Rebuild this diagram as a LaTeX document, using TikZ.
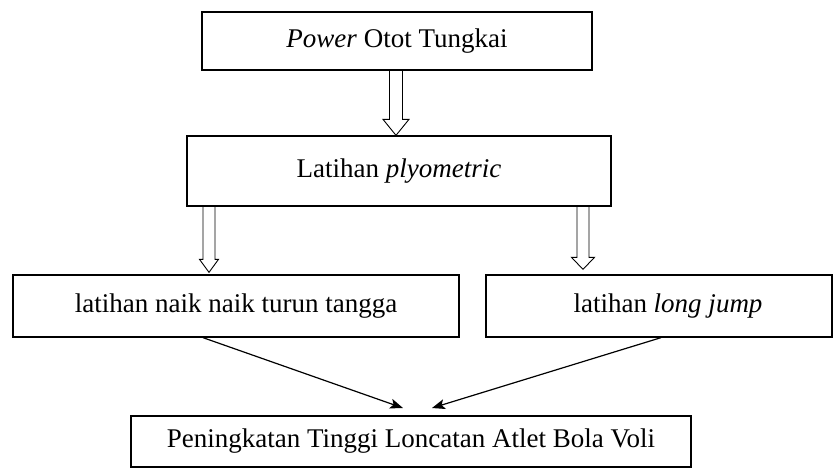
\documentclass[tikz,border=0pt]{standalone}
\usepackage{fontspec}
\setmainfont{Liberation Serif}
\usetikzlibrary{arrows.meta,calc}
\tikzset{
  box/.style={draw, line width=1.3pt, inner sep=0pt, font=\fontsize{27}{30}\selectfont},
  lbl/.style={inner sep=0pt, font=\fontsize{27}{30}\selectfont},
  hollowline/.style={draw, line width=0.9pt, line join=miter},
  diag/.style={draw, line width=1.2pt, -{Stealth[length=13pt,width=10pt,inset=3pt]}}
}
% #1 start, #2 tip, #3 shaft half width, #4 head half width, #5 head length
\newcommand\hollowarrow[5]{%
  \path[hollowline] let \p1=(#1), \p2=(#2) in
    (\x1-#3,\y1) -- (\x1-#3,\y2+#5) -- (\x1-#4,\y2+#5) -- (\x1,\y2)
    -- (\x1+#4,\y2+#5) -- (\x1+#3,\y2+#5) -- (\x1+#3,\y1);}
\begin{document}
\begin{tikzpicture}[x=1pt,y=-1pt]
\useasboundingbox (0,0) rectangle (836,469);
\node[box, minimum width=390pt, minimum height=58pt] (b1) at (397,41) {\textit{Power} Otot Tungkai};
\node[box, minimum width=424pt, minimum height=70pt] (b2) at (399,171) {Latihan \textit{plyometric}};
\node[box, minimum width=446pt, minimum height=62pt] (b3) at (236,306) {latihan naik naik turun tangga};
\node[box, minimum width=346pt, minimum height=62pt] (b4) at (659,306) {};
\node[lbl] (t4) at (668,306) {latihan \textit{long jump}};
\node[box, minimum width=560pt, minimum height=51pt] (b5) at (411,441.5) {Peningkatan Tinggi Loncatan Atlet Bola Voli};
% hollow arrows
\coordinate (a1s) at (b1.south -| 396,0);
\coordinate (a1e) at (b2.north -| 396,0);
\hollowarrow{a1s}{a1e}{6.5pt}{13pt}{16pt}
\coordinate (a2s) at (b2.south -| 209,0);
\coordinate (a2e) at ($(b3.north -| 209,0)+(0,-2)$);
\hollowarrow{a2s}{a2e}{6pt}{9.5pt}{13pt}
\coordinate (a3s) at (b2.south -| 583,0);
\coordinate (a3e) at ($(b4.north -| 583,0)+(0,-5)$);
\hollowarrow{a3s}{a3e}{6pt}{11.5pt}{12pt}
% diagonal arrows
\coordinate (t1) at (403,408);
\coordinate (t2) at (432,408);
\draw[diag] (b3.south -| 203,0) -- (t1);
\draw[diag] (b4.south -| 661,0) -- (t2);
\end{tikzpicture}
\end{document}
